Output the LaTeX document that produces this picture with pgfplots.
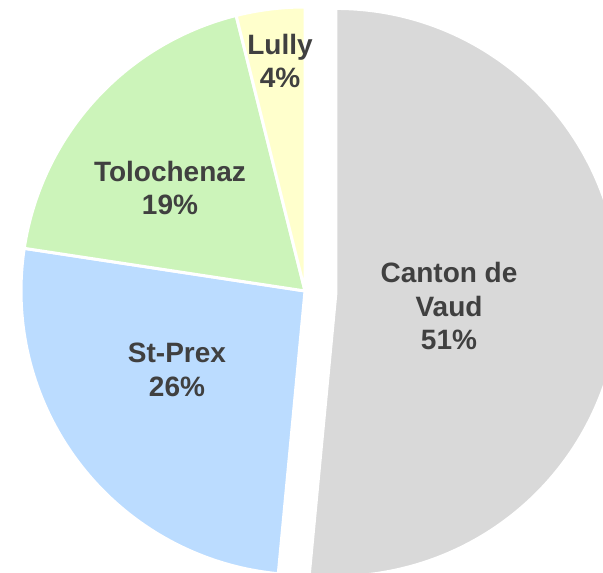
\documentclass[border=0pt]{standalone}
\usepackage{pgfplots}
\usepackage{pgfplotstable}
\pgfplotsset{compat=1.18}
\usepackage{fontspec}
\setmainfont{Liberation Sans}
\definecolor{slice0}{HTML}{D9D9D9}
\definecolor{slice1}{HTML}{BBDCFF}
\definecolor{slice2}{HTML}{CCF4BA}
\definecolor{slice3}{HTML}{FFFFCC}
\definecolor{labelgray}{HTML}{404040}
\pgfplotstableread{
name     value  explode
Canton   51.5   31
StPrex   25.9   0
Tolo     18.7   0
Lully    3.9    0
}\piedata
\begin{document}
\begin{tikzpicture}
\begin{axis}[x=1pt, y=1pt, xmin=-305, xmax=298, ymin=-282, ymax=291,
  hide axis, scale only axis, clip=true]
\def\startang{90}
\pgfplotsforeachungrouped \i in {0,...,3}{%
  \pgfplotstablegetelem{\i}{value}\of\piedata \let\v\pgfplotsretval
  \pgfplotstablegetelem{\i}{explode}\of\piedata \let\ex\pgfplotsretval
  \pgfmathsetmacro\endang{\startang - 3.6*\v}%
  \pgfmathsetmacro\midang{(\startang+\endang)/2}%
  \pgfmathsetmacro\dx{\ex*cos(\midang)}%
  \pgfmathsetmacro\dy{\ex*sin(\midang)}%
  \edef\cmd{\noexpand\fill[slice\i, draw=white, line width=3pt, line join=round]
    (axis cs:\dx,\dy) -- ++(\startang:284pt)
    arc[start angle=\startang, end angle=\endang, radius=284pt] -- cycle;}%
  \cmd
  \global\let\startang\endang
}
\tikzset{lbl/.style={align=center, text=labelgray,
  font=\bfseries\fontsize{28}{33.5}\selectfont}}
\node[lbl] at (axis cs:144,-15) {Canton de\\Vaud\\51\%};
\node[lbl] at (axis cs:-128,-79) {St-Prex\\26\%};
\node[lbl] at (axis cs:-135,103) {Tolochenaz\\19\%};
\node[lbl] at (axis cs:-25,230) {Lully\\4\%};
\end{axis}
\pgfresetboundingbox
\path[use as bounding box] (current axis.south west) rectangle (current axis.north east);
\end{tikzpicture}
\end{document}
